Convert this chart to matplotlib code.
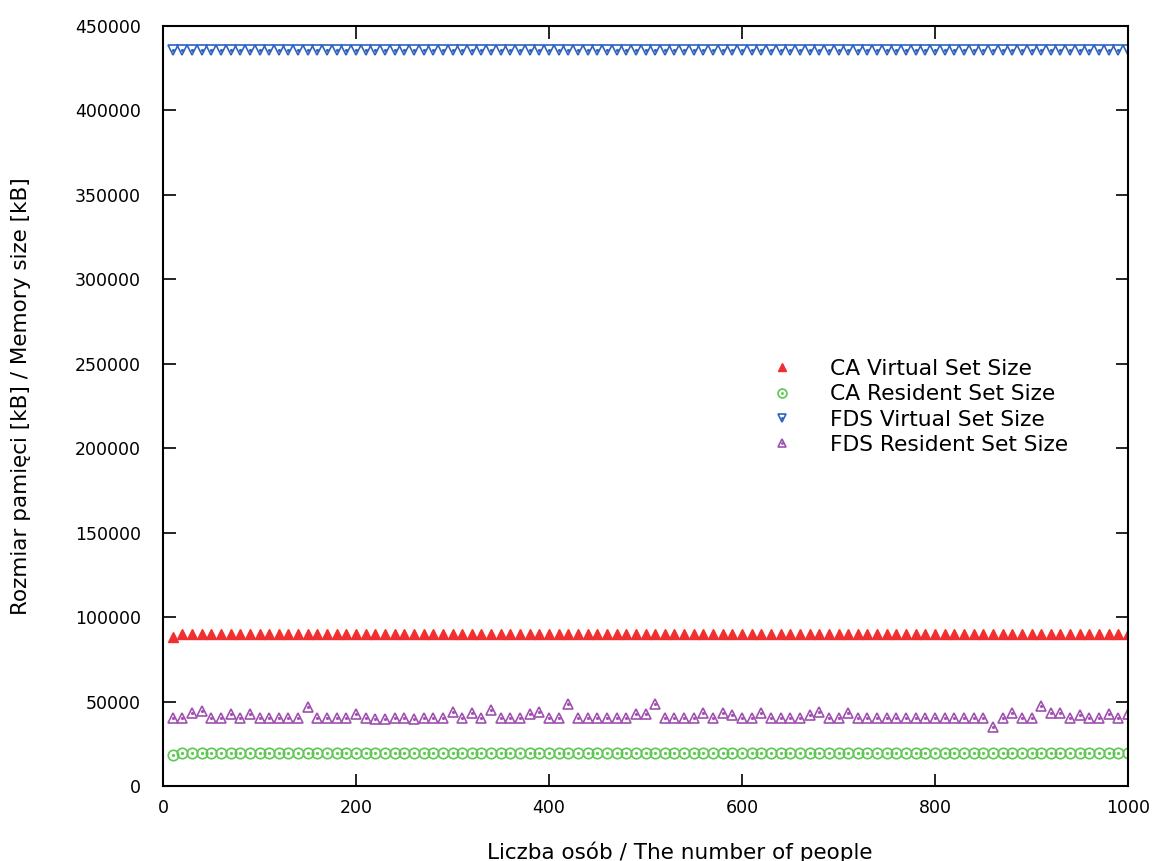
import matplotlib
matplotlib.use("Agg")
import matplotlib.pyplot as plt
from matplotlib.legend_handler import HandlerTuple

people = list(range(10, 1001, 10))

ca_virtual = [
    88500, 90000, 90000, 90000, 90000, 90000, 90000, 90000, 90000, 90000,
    90000, 90000, 90000, 90000, 90000, 90000, 90000, 90000, 90000, 90000,
    90000, 90000, 90000, 90000, 90000, 90000, 90000, 90000, 90000, 90000,
    90000, 90000, 90000, 90000, 90000, 90000, 90000, 90000, 90000, 90000,
    90000, 90000, 90000, 90000, 90000, 90000, 90000, 90000, 90000, 90000,
    90000, 90000, 90000, 90000, 90000, 90000, 90000, 90000, 90000, 90000,
    90000, 90000, 90000, 90000, 90000, 90000, 90000, 90000, 90000, 90000,
    90000, 90000, 90000, 90000, 90000, 90000, 90000, 90000, 90000, 90000,
    90000, 90000, 90000, 90000, 90000, 90000, 90000, 90000, 90000, 90000,
    90000, 90000, 90000, 90000, 90000, 90000, 90000, 90000, 90000, 90000,
]

ca_resident = [
    18500, 19500, 19500, 19500, 19500, 19500, 19500, 19500, 19500, 19500,
    19500, 19500, 19500, 19500, 19500, 19500, 19500, 19500, 19500, 19500,
    19500, 19500, 19500, 19500, 19500, 19500, 19500, 19500, 19500, 19500,
    19500, 19500, 19500, 19500, 19500, 19500, 19500, 19500, 19500, 19500,
    19500, 19500, 19500, 19500, 19500, 19500, 19500, 19500, 19500, 19500,
    19500, 19500, 19500, 19500, 19500, 19500, 19500, 19500, 19500, 19500,
    19500, 19500, 19500, 19500, 19500, 19500, 19500, 19500, 19500, 19500,
    19500, 19500, 19500, 19500, 19500, 19500, 19500, 19500, 19500, 19500,
    19500, 19500, 19500, 19500, 19500, 19500, 19500, 19500, 19500, 19500,
    19500, 19500, 19500, 19500, 19500, 19500, 19500, 19500, 19500, 19500,
]

fds_virtual = [
    436000, 436000, 436000, 436000, 436000, 436000, 436000, 436000, 436000, 436000,
    436000, 436000, 436000, 436000, 436000, 436000, 436000, 436000, 436000, 436000,
    436000, 436000, 436000, 436000, 436000, 436000, 436000, 436000, 436000, 436000,
    436000, 436000, 436000, 436000, 436000, 436000, 436000, 436000, 436000, 436000,
    436000, 436000, 436000, 436000, 436000, 436000, 436000, 436000, 436000, 436000,
    436000, 436000, 436000, 436000, 436000, 436000, 436000, 436000, 436000, 436000,
    436000, 436000, 436000, 436000, 436000, 436000, 436000, 436000, 436000, 436000,
    436000, 436000, 436000, 436000, 436000, 436000, 436000, 436000, 436000, 436000,
    436000, 436000, 436000, 436000, 436000, 436000, 436000, 436000, 436000, 436000,
    436000, 436000, 436000, 436000, 436000, 436000, 436000, 436000, 436000, 436000,
]

fds_resident = [
    40500, 40500, 43500, 44500, 40500, 40500, 42500, 40500, 42500, 40500,
    40500, 40500, 40500, 40500, 46500, 40500, 40500, 40500, 40500, 42800,
    40500, 39500, 39500, 40500, 40500, 39500, 40500, 40500, 40500, 44000,
    40500, 43000, 40500, 45000, 40500, 40500, 40500, 42600, 44000, 40500,
    40500, 48500, 40500, 40500, 40500, 40500, 40500, 40500, 42600, 42600,
    48500, 40500, 40500, 40500, 40500, 43000, 40500, 43000, 42000, 40500,
    40500, 43000, 40500, 40500, 40500, 40500, 42000, 44000, 40500, 40500,
    43000, 40500, 40500, 40500, 40500, 40500, 40500, 40500, 40500, 40500,
    40500, 40500, 40500, 40500, 40500, 35000, 40500, 43400, 40000, 40500,
    47500, 43000, 43000, 40500, 42000, 40500, 40500, 42600, 40500, 42600,
]

labels = ["CA Virtual Set Size", "CA Resident Set Size",
          "FDS Virtual Set Size", "FDS Resident Set Size"]
colors = ["#f03030", "#5cc850", "#2e62c0", "#a050b0"]

plt.rcParams['font.family'] = ['DejaVu Sans']
fig = plt.figure(figsize=(11.58, 8.61), dpi=100)
ax = fig.add_axes([0.1408, 0.0871, 0.8333, 0.8827])

h1, = ax.plot(people, ca_virtual, linestyle='none', marker='^', ms=7,
              mfc=colors[0], mec=colors[0], mew=1.0)
h2, = ax.plot(people, ca_resident, linestyle='none', marker='o', ms=7.5,
              mfc='none', mec=colors[1], mew=1.2)
h2d, = ax.plot(people, ca_resident, linestyle='none', marker='.', ms=2.5,
               color=colors[1])
h3, = ax.plot(people, fds_virtual, linestyle='none', marker='v', ms=7,
              mfc='none', mec=colors[2], mew=1.2)
h3d, = ax.plot(people, fds_virtual, linestyle='none', marker='.', ms=2.5,
               color=colors[2])
h4, = ax.plot(people, fds_resident, linestyle='none', marker='^', ms=7,
              mfc='none', mec=colors[3], mew=1.2)
h4d, = ax.plot(people, fds_resident, linestyle='none', marker='.', ms=2.5,
               color=colors[3])

ax.set_xlim(0, 1000)
ax.set_ylim(0, 450000)
ax.set_xticks([0, 200, 400, 600, 800, 1000])
ax.set_yticks(list(range(0, 450001, 50000)))
ax.tick_params(direction='in', length=9, width=1.2, top=True, right=True,
               labelsize=12.5)
ax.tick_params(axis='y', pad=16)
ax.tick_params(axis='x', pad=9)
for s in ax.spines.values():
    s.set_linewidth(1.5)
ax.set_xlabel("Liczba osób / The number of people", fontsize=15.5)
ax.set_ylabel("Rozmiar pamięci [kB] / Memory size [kB]", fontsize=15.5)
ax.xaxis.set_label_coords(0.535, -0.073)
ax.yaxis.set_label_coords(-0.1366, 0.513)

leg = ax.legend([h1, (h2, h2d), (h3, h3d), (h4, h4d)], labels,
                handler_map={tuple: HandlerTuple(ndivide=1, pad=0)},
                loc='upper left', bbox_to_anchor=(0.61, 0.588),
                frameon=False, fontsize=15.7, handlelength=1.0,
                handletextpad=1.7, labelspacing=0.25, markerscale=0.85)

fig.savefig("out.png", dpi=100)
